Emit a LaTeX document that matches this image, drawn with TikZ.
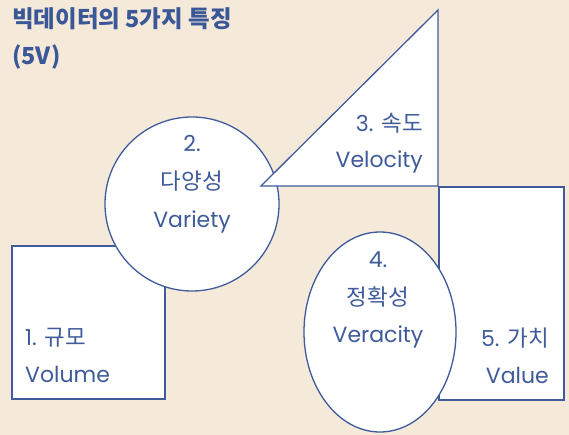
\documentclass[tikz,border=0pt]{standalone}
\usepackage{fontspec}
\setmainfont{Poppins}
\newfontfamily\kr{Noto Sans CJK KR}
\newfontfamily\titlefont{Noto Sans CJK KR}[UprightFont=* Black]
\definecolor{bgc}{HTML}{F5E9D9}
\definecolor{navy}{HTML}{3F5B9B}
\definecolor{titlec}{HTML}{3A5897}
\newcommand{\ko}[1]{{\fontsize{22.5}{24}\kr #1}}
\begin{document}
\begin{tikzpicture}[x=1pt,y=-1pt,
  shp/.style={draw=navy,fill=white,line width=1.3pt},
  lbl/.style={text=navy,font=\fontsize{22}{24}\selectfont,inner sep=0pt},
  ttl/.style={text=titlec,font=\fontsize{23.5}{24}\titlefont,inner sep=0pt,anchor=base west}]
\fill[bgc] (0,0) rectangle (569,435);
\useasboundingbox (0,0) rectangle (569,435);
% shapes
\draw[shp] (12,246) rectangle (165,399);
\draw[shp] (192,204) circle (87);
\draw[shp] (261,186) -- (438,10) -- (438,186) -- cycle;
\draw[shp] (439,187) rectangle (564,400);
\draw[shp] (380,332) ellipse (76 and 100);
% title
\node[ttl] (t1) at (12,28) {빅데이터의 5가지 특징};
\node[ttl] (t2) at (12,65) {(5V)};
% labels
\node[lbl,anchor=base west] (a1) at (25,345) {1. \ko{규모}};
\node[lbl,anchor=base west] (a2) at (25,382) {Volume};
\node[lbl,anchor=base] (b1) at (192,152) {2.};
\node[lbl,anchor=base] (b2) at (192,190) {\ko{다양성}};
\node[lbl,anchor=base] (b3) at (192,228) {Variety};
\node[lbl,anchor=base east] (c1) at (423,132) {3. \ko{속도}};
\node[lbl,anchor=base east] (c2) at (423,168) {Velocity};
\node[lbl,anchor=base] (d1) at (378,267) {4.};
\node[lbl,anchor=base] (d2) at (378,305) {\ko{정확성}};
\node[lbl,anchor=base] (d3) at (378,342) {Veracity};
\node[lbl,anchor=base east] (e1) at (549,346) {5. \ko{가치}};
\node[lbl,anchor=base east] (e2) at (549,383) {Value};
\end{tikzpicture}
\end{document}
